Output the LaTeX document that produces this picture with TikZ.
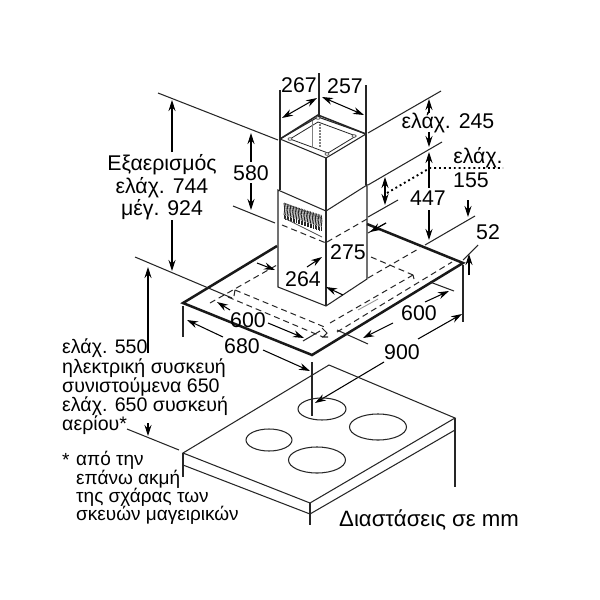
\documentclass[tikz,border=0pt]{standalone}
\usepackage{fontspec}
\setmainfont{Liberation Sans}
\usetikzlibrary{arrows.meta}
\tikzset{
  thinl/.style={line width=1.05pt,black!85},
  thickl/.style={line width=2.5pt,black!90,line join=miter},
  dashl/.style={line width=1pt,black!85,dash pattern=on 6pt off 4pt},
  dotl/.style={line width=1.9pt,black,dash pattern=on 1.9pt off 3pt},
  dim/.style={line width=1.05pt,black,-{Stealth[length=11pt,width=7pt]}},
  dimb/.style={line width=1.05pt,black,{Stealth[length=11pt,width=7pt]}-{Stealth[length=11pt,width=7pt]}},
  big/.style={font=\fontsize{21.3}{24}\selectfont,inner sep=0pt},
  small/.style={font=\fontsize{19.6}{20}\selectfont,inner sep=0pt,anchor=base west},
  note/.style={font=\fontsize{19}{20}\selectfont,inner sep=0pt,anchor=base west},
}
\begin{document}
\begin{tikzpicture}[x=1pt,y=-1pt]
\useasboundingbox[fill=white] (0,0) rectangle (600,600);
% chimney
\draw[thinl] (280,139)--(318,117)--(366,134)--(326,158)--cycle;
\draw[thinl,line width=1.5pt] (280,139)--(318,115)--(366,134);
\draw[thinl,line width=0.8pt] (290,139)--(318,122)--(356,136)--(328,153)--cycle;
\draw[thinl] (280,139)--(280,190) (326,158)--(326,306) (366,134)--(366,185);
\draw[thinl,black!50,line width=0.8pt] (312,121)--(312,148);
\draw[line width=1.6pt,black!50,dash pattern=on 1.5pt off 1.5pt] (320,124)--(320,148);
\foreach \p/\q in {290/139,318/118,354/136,327/154}{
  \draw[line width=0.7pt,black!70,fill=white] (\p,\q) ellipse (2 and 1.3);
}
% lower housing
\draw[thinl] (278,190)--(278,287)--(326,306)--(367,279)--(367,185)--(326,211)--cycle;
% vent
\foreach \i in {0,...,24}{
  \pgfmathsetmacro{\xa}{284+1.55*\i}
  \pgfmathsetmacro{\ya}{203+0.5*\i}
  \draw[line width=0.85pt,black!85] (\xa,\ya)--++(0.7,6);
  \draw[line width=0.85pt,black!85] (\xa+0.7,\ya+6)--++(-0.7,6) ;
  \draw[line width=0.85pt,black!85] (\xa,\ya+12)--++(0,4);
}
\draw[line width=0.7pt,black!70] (284,203)--(322,218) (284,218)--(322,237);
% housing dashes
\draw[dashl] (282,225)--(326,243);
\draw[dashl] (327,242)--(367,219);
% board
\draw[thickl] (277,246)--(183,303)--(312,355)--(463,263)--(367,224);
% filter dashes
\draw[dashl] (210,303)--(277,265);
\draw[dashl] (235,290)--(327,328);
\draw[dashl] (228,297)--(323,337);
\draw[dashl] (368,278)--(420,248);
\draw[dashl] (330,323)--(413,275);
\draw[dashl] (337,332)--(452,262);
\draw[dashl] (371,257)--(413,275);
\draw[thinl] (235,290)--(234,296) (413,275)--(414,279) (322,328)--(327,333)--(323,337)--(328,337);
\draw[line width=0.9pt,black!40] (358,310)--(378,299);
% extension lines
\draw[thinl] (158,93)--(278,140);
\draw[thinl] (233,206)--(275,223);
\draw[thinl] (135,257)--(232,298);
\draw[thinl] (280,90)--(280,139);
\draw[thinl] (319,73)--(319,117);
\draw[thinl] (366,85)--(366,134);
\draw[thinl] (368,133)--(441,91);
\draw[thinl] (368,185)--(442,142);
\draw[thinl] (368,217)--(398,200);
\draw[thinl] (425,245)--(475,216);
\draw[thinl] (463,260)--(478,245);
\draw[thinl] (430,282)--(454,291);
\draw[thinl] (337,330)--(368,344);
\draw[thinl] (303,341)--(320,331);
\draw[thinl] (183,306)--(183,337);
\draw[thinl] (463,265)--(463,322);
\draw[thinl] (312,362)--(312,416);
\draw[thinl] (127,429)--(179,450);
\draw[thinl] (386,223)--(368,233);
% dotted
\draw[dotl] (387,193)--(430,168)--(503,168);
% dimensions
\draw[dimb] (282,118)--(317,98);
\draw[dimb] (322,97)--(364,115);
\draw[dim] (172,152)--(172,100);
\draw[dim] (172,220)--(172,271);
\draw[dim] (251,162)--(251,133);
\draw[dim] (251,183)--(251,210);
\draw[dim] (429,113)--(429,99);
\draw[dim] (429,132)--(429,147);
\draw[dim] (429,188)--(429,152);
\draw[dim] (429,210)--(429,240);
\draw[dimb] (385,177)--(385,205);
\draw[dim] (468,200)--(468,217);
\draw[dim] (469,275)--(469,254);
\draw[dim] (307,267)--(322,257);
\draw[dim] (343,295)--(326,287);
\draw[dim] (257,263)--(275,270);
\draw[dim] (386,223)--(370,232);
\draw[dim] (230,310)--(217,302);
\draw[dim] (268,323)--(304,338);
\draw[dim] (393,323)--(363,338);
\draw[dim] (425,302)--(449,291);
\draw[dim] (223,337)--(187,320);
\draw[dim] (263,350)--(310,371);
\draw[dim] (418,339)--(462,314);
\draw[dim] (384,362)--(315,403);
\draw[dim] (148,353)--(148,267);
\draw[dim] (148,423)--(148,436);
% hob
\draw[thinl] (183,453)--(329,365)--(455,418)--(310,503)--cycle;
\draw[thinl] (183,465)--(310,514)--(455,430);
\draw[thinl] (183,453)--(183,477) (310,503)--(310,525) (455,418)--(455,487);
\draw[thinl] (322,409) ellipse (24 and 11);
\draw[thinl] (378,427) ellipse (28.5 and 13);
\draw[thinl] (269,440) ellipse (23 and 11);
\draw[thinl] (317,460) ellipse (28.5 and 13);
% labels
\node[big] (a267) at (299,85) {267};
\node[big] (a257) at (345,86) {257};
\node[big] (a580) at (251,173) {580};
\node[big] (amin245) at (448,123) {ελάχ. 245};
\node[big] (a447) at (428,198) {447};
\node[big] (amin) at (478,158) {ελάχ.};
\node[big] (a155) at (471,180) {155};
\node[big] (a52) at (488,232) {52};
\node[big] (a275) at (348,252) {275};
\node[big] (a264) at (303,279) {264};
\node[big] (b600) at (248,320) {600};
\node[big] (c600) at (419,313) {600};
\node[big] (a680) at (242,346) {680};
\node[big] (a900) at (402,352) {900};
\node[big,anchor=base] (e1) at (162,170) {Εξαερισμός};
\node[big,anchor=base] (e2) at (162,193) {ελάχ. 744};
\node[big,anchor=base] (e3) at (162,215) {μέγ. 924};
\node[small] (s1) at (62,353) {ελάχ. 550};
\node[small] (s2) at (62,373) {ηλεκτρική συσκευή};
\node[small] (s3) at (62,392) {συνιστούμενα 650};
\node[small] (s4) at (62,411) {ελάχ. 650 συσκευή};
\node[small] (s5) at (62,430) {αερίου*};
\node[note] (n0) at (62,466) {*};
\node[note] (n1) at (76,465) {από την};
\node[note] (n2) at (76,484) {επάνω ακμή};
\node[note] (n3) at (76,502) {της σχάρας των};
\node[note] (n4) at (76,520) {σκευών μαγειρικών};
\node[inner sep=0pt,anchor=base west,font=\fontsize{22.2}{24}\selectfont] (dm) at (339,526) {Διαστάσεις σε mm};
\end{tikzpicture}
\end{document}
